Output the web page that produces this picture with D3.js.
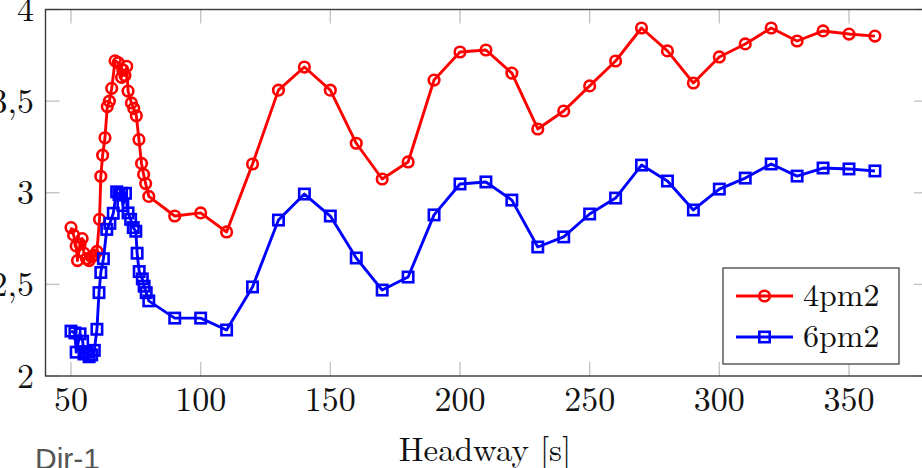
<!DOCTYPE html>
<html>
<head>
<meta charset="utf-8">
<script src="https://cdn.jsdelivr.net/npm/d3@7"></script>
<style>
  html, body { margin: 0; padding: 0; background: #fff; }
  svg { display: block; }
  .tex { font-family: "Latin Modern Roman", "CMU Serif", "Liberation Serif", serif; fill: #111; }
</style>
</head>
<body>
<svg id="chart" width="922" height="468"></svg>
<script>
// --- data ---
const headway4pm2 = [50, 51, 52, 52.5, 53.5, 54.3, 55, 56, 57, 58, 59, 60, 61, 61.5, 62.2, 63.1, 64, 64.8, 65.7,
  67, 68.2, 69.5, 70, 70.8, 71.5, 72, 73.3, 74.2, 75.2, 76.2, 77.2, 78, 78.8, 80,
  90, 100, 110, 120, 130, 140, 150, 160, 170, 180, 190, 200, 210, 220, 230, 240, 250, 260, 270, 280, 290, 300,
  310, 320, 330, 340, 350, 360];
const value4pm2 = [2.81, 2.77, 2.71, 2.63, 2.72, 2.75, 2.67, 2.64, 2.63, 2.65, 2.66, 2.68, 2.855, 3.09, 3.205, 3.30, 3.47, 3.50, 3.57,
  3.72, 3.71, 3.63, 3.67, 3.64, 3.69, 3.555, 3.49, 3.46, 3.42, 3.29, 3.16, 3.10, 3.05, 2.98,
  2.873, 2.89, 2.786, 3.157, 3.56, 3.686, 3.56, 3.27, 3.075, 3.168, 3.615, 3.768, 3.779, 3.653, 3.348, 3.446,
  3.583, 3.719, 3.899, 3.774, 3.599, 3.741, 3.812, 3.899, 3.828, 3.883, 3.866, 3.855];

const headway6pm2 = [50, 51.5, 52, 53.5, 54.5, 55, 56, 57, 58, 59, 60, 60.8, 61.5, 62.5, 63.8, 65, 66.3,
  67.6, 68.5, 69.5, 70, 71, 72, 73, 74, 75, 75.5, 76.3, 77.5, 78.2, 79, 80,
  90, 100, 110, 120, 130, 140, 150, 160, 170, 180, 190, 200, 210, 220, 230, 240, 250, 260, 270, 280, 290, 300,
  310, 320, 330, 340, 350, 360];
const value6pm2 = [2.245, 2.235, 2.13, 2.23, 2.19, 2.12, 2.13, 2.105, 2.115, 2.14, 2.255, 2.455, 2.565, 2.64, 2.80, 2.833, 2.888,
  3.005, 2.99, 2.997, 2.93, 2.997, 2.89, 2.855, 2.81, 2.79, 2.67, 2.57, 2.53, 2.49, 2.455, 2.41,
  2.316, 2.316, 2.251, 2.486, 2.851, 2.993, 2.873, 2.644, 2.469, 2.540, 2.879, 3.048, 3.059, 2.960, 2.704,
  2.759, 2.884, 2.971, 3.151, 3.064, 2.906, 3.020, 3.080, 3.157, 3.091, 3.135, 3.130, 3.119];

const seriesNames = ["4pm2", "6pm2"];
const xTicks = [50, 100, 150, 200, 250, 300, 350];
const yTicks = [2, 2.5, 3, 3.5, 4];
const yTickLabels = ["2", "2,5", "3", "3,5", "4"];

// --- layout ---
const plotLeft = 45.5, plotRight = 928, plotTop = 9.5, plotBottom = 376;
const svg = d3.select('#chart');

const x = d3.scaleLinear().domain([40.17, 380.47]).range([plotLeft, plotRight]);
const y = d3.scaleLinear().domain([2, 4]).range([plotBottom, plotTop]);

const series = [
  { name: seriesNames[0], xs: headway4pm2, ys: value4pm2, color: '#ff0000', mark: 'circle' },
  { name: seriesNames[1], xs: headway6pm2, ys: value6pm2, color: '#0000ff', mark: 'square' }
];

// inward ticks on all four sides (pgfplots style)
const tickLen = 14;
const ticks = svg.append('g').attr('stroke', '#c4c4c4').attr('stroke-width', 1.4);
xTicks.forEach(t => {
  ticks.append('line').attr('x1', x(t)).attr('x2', x(t)).attr('y1', plotBottom).attr('y2', plotBottom - tickLen);
  ticks.append('line').attr('x1', x(t)).attr('x2', x(t)).attr('y1', plotTop).attr('y2', plotTop + tickLen);
});
yTicks.forEach(t => {
  ticks.append('line').attr('x1', plotLeft).attr('x2', plotLeft + tickLen).attr('y1', y(t)).attr('y2', y(t));
  ticks.append('line').attr('x1', plotRight).attr('x2', plotRight - tickLen).attr('y1', y(t)).attr('y2', y(t));
});

// axis box
svg.append('rect')
  .attr('x', plotLeft).attr('y', plotTop)
  .attr('width', plotRight - plotLeft).attr('height', plotBottom - plotTop)
  .attr('fill', 'none').attr('stroke', '#3a3a3a').attr('stroke-width', 1.4);

// tick labels
svg.append('g').selectAll('text').data(xTicks).join('text')
  .attr('class', 'tex')
  .attr('x', d => x(d)).attr('y', 411)
  .attr('text-anchor', 'middle')
  .style('font-size', '34px')
  .text(d => d);

svg.append('g').selectAll('text').data(yTicks).join('text')
  .attr('class', 'tex')
  .attr('x', 34).attr('y', d => y(d) + 11.5)
  .attr('text-anchor', 'end')
  .style('font-size', '34px')
  .text((d, i) => yTickLabels[i]);

// axis label
svg.append('text')
  .attr('class', 'tex')
  .attr('x', 485).attr('y', 461)
  .attr('text-anchor', 'middle')
  .style('font-size', '33px')
  .text('Headway [s]');

svg.append('text')
  .attr('x', 35).attr('y', 469)
  .style('font-family', '"Liberation Sans", Arial, sans-serif')
  .style('font-size', '30px')
  .attr('fill', '#555')
  .text('Dir-1');

// marks
const drawMark = function(g, kind, cx, cy, color) {
  if (kind === 'circle') {
    g.append('circle').attr('cx', cx).attr('cy', cy).attr('r', 5.3)
      .attr('fill', 'none').attr('stroke', color).attr('stroke-width', 2.6);
  } else {
    g.append('rect').attr('x', cx - 5.2).attr('y', cy - 5.2).attr('width', 10.4).attr('height', 10.4)
      .attr('fill', 'none').attr('stroke', color).attr('stroke-width', 2.6);
  }
};

const line = d3.line().x(d => x(d[0])).y(d => y(d[1]));
const plot = svg.append('g');
series.forEach(s => {
  const pts = s.xs.map((v, i) => [v, s.ys[i]]);
  plot.append('path').datum(pts)
    .attr('d', line)
    .attr('fill', 'none')
    .attr('stroke', s.color)
    .attr('stroke-width', 2.9)
    .attr('stroke-linejoin', 'round');
  const mg = plot.append('g');
  pts.forEach(p => drawMark(mg, s.mark, x(p[0]), y(p[1]), s.color));
});

// legend
const legend = svg.append('g');
legend.append('rect')
  .attr('x', 723).attr('y', 268).attr('width', 176).attr('height', 96)
  .attr('fill', '#fff').attr('stroke', '#444').attr('stroke-width', 1.3);
series.forEach((s, i) => {
  const ly = 296 + i * 41;
  legend.append('line').attr('x1', 736).attr('x2', 793).attr('y1', ly).attr('y2', ly)
    .attr('stroke', s.color).attr('stroke-width', 2.9);
  drawMark(legend, s.mark, 764.5, ly, s.color);
  legend.append('text')
    .attr('class', 'tex')
    .attr('x', 803).attr('y', ly + 10)
    .style('font-size', '32px')
    .text(s.name);
});
</script>
</body>
</html>
